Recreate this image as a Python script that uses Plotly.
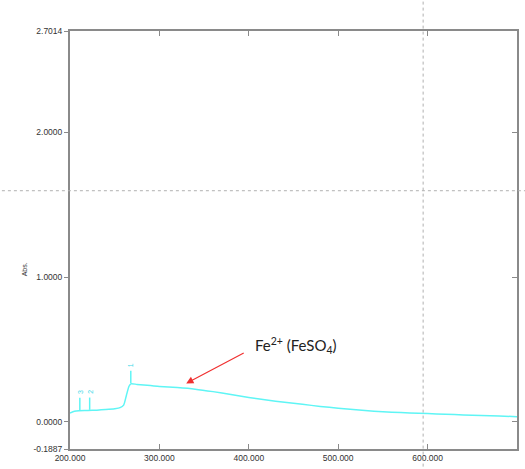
import plotly.graph_objects as go

# Spectrum data (wavelength nm, absorbance)
wavelength = [200, 205, 210, 220, 230, 240, 250, 256, 260, 263, 266, 268, 275, 290, 300,
              320, 340, 360, 380, 400, 420, 440, 460, 480, 500, 520, 540, 560, 580,
              600, 620, 640, 660, 680, 700]
absorbance = [0.060, 0.072, 0.076, 0.077, 0.080, 0.084, 0.090, 0.097, 0.115, 0.180, 0.245, 0.262,
              0.258, 0.250, 0.244, 0.236, 0.225, 0.208, 0.188, 0.168, 0.150, 0.134, 0.120,
              0.106, 0.093, 0.082, 0.073, 0.066, 0.060, 0.056, 0.051, 0.047, 0.043, 0.039, 0.035]

# Peak picks
peak_nm = [268, 222, 211]
peak_abs = [0.262, 0.077, 0.076]
peak_labels = ["1", "2", "3"]

# Axis ticks
x_ticks = [200, 300, 400, 500, 600, 700]
x_ticktext = ["200.000", "300.000", "400.000", "500.000", "600.000", "700.000"]
y_ticks = [-0.1887, 0.0, 1.0, 2.0, 2.7014]
y_ticktext = ["-0.1887", "0.0000", "1.0000", "2.0000", "2.7014"]
y_range = [-0.1887, 2.7014]
x_range = [200, 700]

cursor_nm = 595
cursor_abs = 1.597

CYAN = "#5ff5f5"
AXIS = "#8a8a8a"
TICKFONT = dict(size=8.5, family="Liberation Sans", color="#333")

fig = go.Figure()
fig.add_trace(go.Scatter(x=wavelength, y=absorbance, mode="lines",
                         line=dict(color=CYAN, width=1.5, shape="spline", smoothing=0.6),
                         showlegend=False, hoverinfo="skip"))

# peak markers
for nm, a, lab in zip(peak_nm, peak_abs, peak_labels):
    fig.add_trace(go.Scatter(x=[nm, nm], y=[a + 0.005, a + 0.09], mode="lines",
                             line=dict(color=CYAN, width=1.5), showlegend=False,
                             hoverinfo="skip"))
    fig.add_annotation(x=nm, y=a + 0.1, text=lab, showarrow=False, textangle=-90,
                       yanchor="bottom", font=dict(size=7, color="#40d8e8",
                                                   family="Liberation Sans"))

# dotted cursor lines extending beyond plot
fig.add_shape(type="line", xref="x", yref="paper", x0=cursor_nm, x1=cursor_nm,
              y0=-0.2, y1=1.2, line=dict(color="#b0b0b0", width=1, dash="dot"))
fig.add_shape(type="line", xref="paper", yref="y", x0=-0.3, x1=1.1,
              y0=cursor_abs, y1=cursor_abs, line=dict(color="#b0b0b0", width=1, dash="dot"))

# annotation arrow + text
fig.add_annotation(x=330, y=0.265, ax=396, ay=0.48, axref="x", ayref="y",
                   text="", showarrow=True, arrowhead=2, arrowsize=1.2, arrowwidth=1.2,
                   arrowcolor="#f03030")
fig.add_annotation(xref="x", yref="y", x=405, y=0.53,
                   text="Fe<sup>2+</sup> (FeSO<sub>4</sub>)", showarrow=False,
                   xanchor="left", font=dict(size=15, family="Lato", color="#222"))

# axis labels
fig.add_annotation(xref="paper", yref="paper", x=-0.115, y=0.43, text="Abs.",
                   textangle=-90, showarrow=False,
                   font=dict(size=7, family="Liberation Sans", color="#333"))
fig.add_annotation(xref="paper", yref="paper", x=0.495, y=-0.036, text="nm",
                   yanchor="top", showarrow=False,
                   font=dict(size=8, family="Liberation Sans", color="#333"))

fig.update_layout(
    width=525, height=469,
    margin=dict(l=70, r=8, t=31, b=20),
    paper_bgcolor="white", plot_bgcolor="white",
    showlegend=False,
    xaxis=dict(range=x_range, tickvals=x_ticks, ticktext=x_ticktext,
               ticks="inside", ticklen=5, tickcolor=AXIS, tickwidth=1,
               showline=True, linecolor=AXIS, linewidth=2, mirror="ticks",
               showgrid=False, zeroline=False, automargin=False,
               tickfont=TICKFONT),
    yaxis=dict(range=y_range, tickvals=y_ticks, ticktext=y_ticktext,
               ticks="outside", ticklen=4, tickcolor=AXIS, tickwidth=1,
               showline=True, linecolor=AXIS, linewidth=2, mirror=True,
               showgrid=False, zeroline=False, automargin=False,
               tickfont=TICKFONT),
    yaxis2=dict(range=y_range, overlaying="y", side="right", tickvals=[0, 1, 2],
                ticks="inside", ticklen=5, tickcolor=AXIS, showticklabels=False,
                showgrid=False, zeroline=False, showline=False, automargin=False),
)
fig.add_trace(go.Scatter(x=[None], y=[None], yaxis="y2", showlegend=False))

fig.write_html("out.html", config={"displayModeBar": False},
               post_script="document.body.style.margin='0';document.body.style.overflow='hidden';")
